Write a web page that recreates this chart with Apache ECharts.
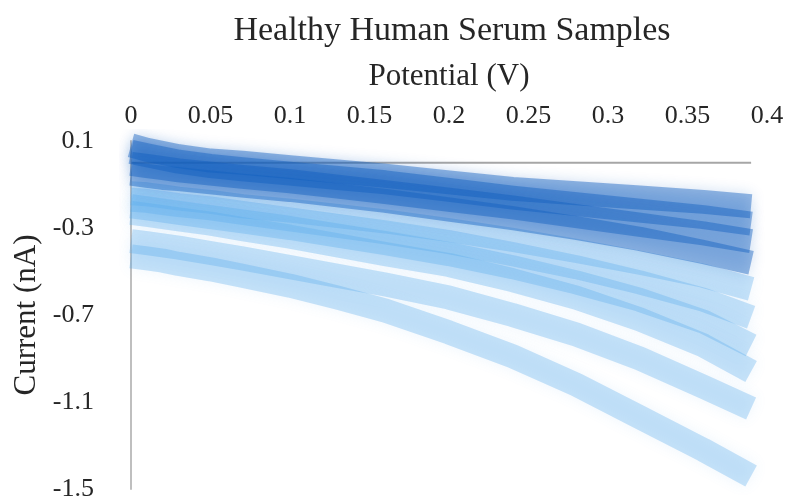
<!DOCTYPE html>
<html><head><meta charset="utf-8">
<script src="https://cdn.jsdelivr.net/npm/echarts@6/dist/echarts.min.js"></script>
<style>html,body{margin:0;padding:0;background:#fff}#c{width:788px;height:504px}</style>
</head><body><div id="c"></div>
<script>
// Potential (V) sample points
const potential = [0, 0.01, 0.02, 0.03, 0.05, 0.07, 0.1, 0.13, 0.16, 0.2, 0.24, 0.28, 0.32, 0.36, 0.39];
// Current (nA) per sample
const sample1 = [0.08, 0.06, 0.045, 0.03, 0.01, 0.0, -0.02, -0.04, -0.06, -0.09, -0.12, -0.14, -0.16, -0.18, -0.2];
const sample2 = [0.05, 0.035, 0.02, 0.005, -0.015, -0.03, -0.05, -0.07, -0.09, -0.125, -0.16, -0.19, -0.22, -0.25, -0.28];
const sample3 = [-0.005, -0.015, -0.025, -0.035, -0.05, -0.065, -0.085, -0.11, -0.135, -0.17, -0.205, -0.245, -0.285, -0.325, -0.36];
const sample4 = [-0.05, -0.06, -0.07, -0.075, -0.09, -0.105, -0.125, -0.15, -0.175, -0.215, -0.255, -0.3, -0.35, -0.41, -0.46];
const sample5 = [-0.14, -0.145, -0.155, -0.165, -0.18, -0.2, -0.22, -0.245, -0.27, -0.31, -0.355, -0.405, -0.46, -0.52, -0.58];
const sample6 = [-0.17, -0.175, -0.185, -0.195, -0.21, -0.23, -0.26, -0.29, -0.32, -0.365, -0.42, -0.48, -0.55, -0.63, -0.71];
const sample7 = [-0.2, -0.21, -0.22, -0.23, -0.25, -0.27, -0.3, -0.335, -0.37, -0.42, -0.48, -0.55, -0.63, -0.73, -0.84];
const sample8 = [-0.23, -0.24, -0.25, -0.26, -0.28, -0.305, -0.34, -0.38, -0.42, -0.47, -0.54, -0.62, -0.72, -0.84, -0.96];
const sample9 = [-0.36, -0.37, -0.38, -0.39, -0.415, -0.44, -0.48, -0.52, -0.56, -0.62, -0.7, -0.79, -0.9, -1.03, -1.13];
const sample10 = [-0.43, -0.44, -0.45, -0.465, -0.49, -0.52, -0.565, -0.62, -0.68, -0.78, -0.89, -1.02, -1.17, -1.32, -1.44];
// Zero baseline (horizontal axis line)
const zeroLine = [[0, 0], [0.39, 0]];
// Axis ticks
const xMin = 0, xMax = 0.4, xStep = 0.05;
const yTicks = [0.1, -0.3, -0.7, -1.1, -1.5];

const darkSamples = [sample1, sample2, sample3, sample4];
const lightSamples = [sample5, sample6, sample7, sample8, sample9, sample10];
const FONT = '"Liberation Serif", "Times New Roman", serif';
const toData = vals => potential.map((x, i) => [x, vals[i]]);

function bandSeries(vals, color, z) {
  return {
    type: 'line', data: toData(vals), smooth: false, showSymbol: false, silent: true, z: z,
    lineStyle: { color: color, width: 24, cap: 'butt', join: 'round', shadowBlur: 14, shadowColor: color }
  };
}
const series = [{
  type: 'line', data: zeroLine, showSymbol: false, silent: true, z: 1,
  lineStyle: { color: '#a6a6a6', width: 2 }
}];
lightSamples.forEach(s => series.push(bandSeries(s, 'rgba(88,170,236,0.32)', 2)));
darkSamples.forEach(s => series.push(bandSeries(s, 'rgba(18,96,192,0.44)', 3)));

const chart = echarts.init(document.getElementById('c'), null, { renderer: 'canvas' });
chart.setOption({
  backgroundColor: '#fff',
  animation: false,
  title: {
    text: 'Healthy Human Serum Samples', left: 452, top: 14, padding: 0, textAlign: 'center',
    textStyle: { fontFamily: FONT, fontSize: 34, fontWeight: 'normal', color: '#262626' }
  },
  grid: { left: 131, right: 21, top: 141, bottom: 15, containLabel: false },
  xAxis: {
    type: 'value', position: 'top', min: xMin, max: xMax, interval: xStep,
    name: 'Potential (V)', nameLocation: 'middle', nameGap: 49,
    nameTextStyle: { fontFamily: FONT, fontSize: 31, color: '#262626' },
    axisLine: { show: false, onZero: false }, axisTick: { show: false }, splitLine: { show: false },
    axisLabel: { margin: 12, fontFamily: FONT, fontSize: 26, color: '#262626' }
  },
  yAxis: {
    type: 'value', min: -1.5, max: 0.1,
    name: 'Current (nA)', nameLocation: 'middle', nameGap: 88, nameRotate: 90,
    nameTextStyle: { fontFamily: FONT, fontSize: 31, color: '#262626' },
    axisLine: { show: true, lineStyle: { color: '#bfbfbf', width: 2 } },
    axisTick: { show: false }, splitLine: { show: false },
    axisLabel: { customValues: yTicks, margin: 37, fontFamily: FONT, fontSize: 26, color: '#262626' }
  },
  series: series
});
</script></body></html>
